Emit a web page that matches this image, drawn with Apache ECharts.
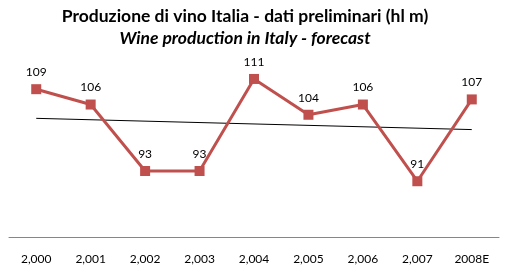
<!DOCTYPE html>
<html><head><meta charset="utf-8">
<script src="https://cdn.jsdelivr.net/npm/echarts@6/dist/echarts.min.js"></script>
<style>html,body{margin:0;padding:0;background:#fff}#c{width:512px;height:273px}</style>
</head><body><div id="c"></div>
<script>
var categories = ['2,000','2,001','2,002','2,003','2,004','2,005','2,006','2,007','2008E'];
var production = [109,106,93,93,111,104,106,91,107];
var trendEnds = [103.3, 101.1];
var chart = echarts.init(document.getElementById('c'));
chart.setOption({
  animation:false,
  title:[
    {text:'Produzione di vino Italia - dati preliminari (hl m)', left:240, top:2, textAlign:'center',
     textStyle:{fontFamily:'Lato', fontWeight:'bold', fontSize:17.5, color:'#000'}},
    {text:'Wine production in Italy - forecast', left:240, top:24, textAlign:'center',
     textStyle:{fontFamily:'Lato', fontWeight:'bold', fontStyle:'italic', fontSize:17.5, color:'#000'}}
  ],
  grid:{left:9, right:13, top:58.5, bottom:35.5},
  xAxis:{type:'category', data:categories, boundaryGap:true,
    axisLine:{lineStyle:{color:'#868686', width:1}}, axisTick:{show:false},
    axisLabel:{fontFamily:'Lato', fontSize:12, color:'#000', margin:16}},
  yAxis:{type:'value', min:80, max:115, show:false, splitLine:{show:false}},
  series:[
    {type:'line', data:[[0,trendEnds[0]],[categories.length-1,trendEnds[1]]], symbol:'none',
     lineStyle:{color:'#000', width:1}, silent:true, z:1},
    {type:'line', data:production, symbol:'rect', symbolSize:10,
     itemStyle:{color:'#C0504D'}, lineStyle:{color:'#C0504D', width:3},
     label:{show:true, position:'top', distance:6, fontFamily:'Lato', fontSize:12, color:'#000'}, z:2}
  ]
});
</script></body></html>
